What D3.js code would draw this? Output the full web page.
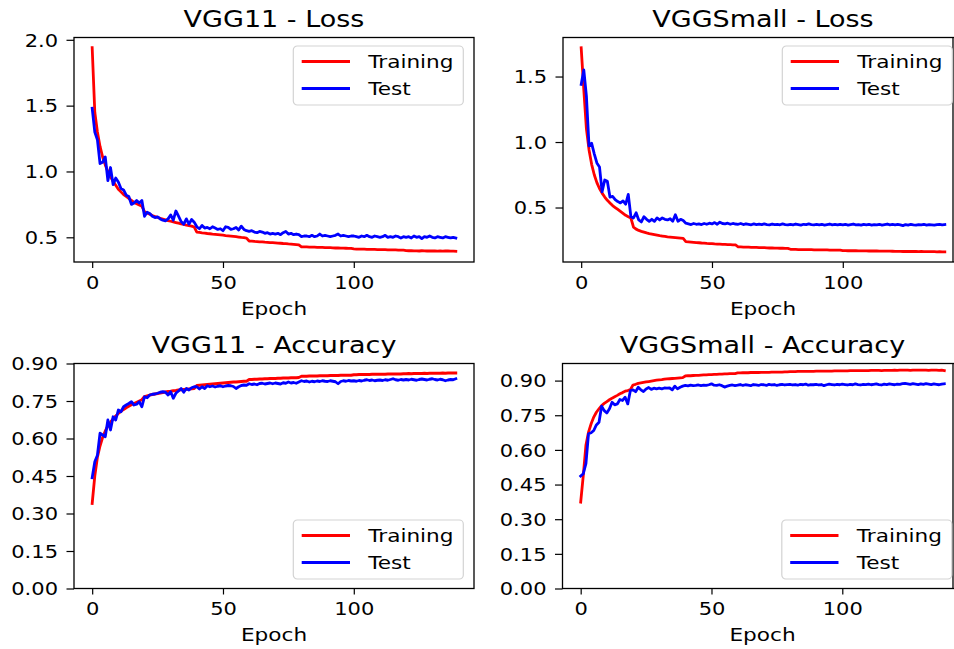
<!DOCTYPE html>
<html><head><meta charset="utf-8">
<script src="https://cdn.jsdelivr.net/npm/d3@7"></script>
<style>body{margin:0;background:#fff;overflow:hidden;} svg{display:block;font-family:"DejaVu Sans",sans-serif;}</style>
</head><body><svg id="c" width="954" height="649"></svg>
<script>
// ---------------- DATA ----------------
const vgg11TrainLoss = [
1.94,1.45,1.30,1.19,1.11,1.05,1.00,0.96,0.925,0.895,
0.865,0.845,0.825,0.81,0.795,0.78,0.765,0.755,0.745,0.735,
0.695,0.685,0.675,0.665,0.658,0.651,0.645,0.639,0.633,0.627,
0.622,0.617,0.612,0.607,0.602,0.598,0.593,0.589,0.585,0.578,
0.540,0.537,0.534,0.532,0.529,0.527,0.524,0.522,0.52,0.518,
0.516,0.513,0.511,0.509,0.507,0.505,0.502,0.499,0.497,0.494,
0.472,0.471,0.469,0.468,0.466,0.465,0.463,0.462,0.46,0.459,
0.458,0.456,0.455,0.453,0.452,0.45,0.449,0.447,0.445,0.443,
0.428,0.427,0.427,0.426,0.425,0.425,0.424,0.423,0.423,0.422,
0.421,0.421,0.42,0.419,0.419,0.418,0.418,0.417,0.416,0.416,
0.412,0.411,0.411,0.41,0.41,0.409,0.409,0.408,0.408,0.407,
0.407,0.406,0.406,0.405,0.405,0.404,0.404,0.403,0.403,0.402,
0.399,0.398,0.398,0.397,0.397,0.396,0.398,0.397,0.396,0.396,
0.397,0.396,0.395,0.396,0.395,0.397,0.396,0.395,0.395,0.394];
const vgg11TestLoss = [
1.48,1.30,1.24,1.06,1.07,1.11,0.93,1.03,0.90,0.95,
0.92,0.87,0.86,0.82,0.81,0.75,0.76,0.78,0.76,0.78,
0.66,0.69,0.68,0.66,0.65,0.655,0.64,0.63,0.625,0.64,
0.67,0.63,0.70,0.66,0.62,0.60,0.64,0.60,0.635,0.615,
0.58,0.565,0.59,0.57,0.575,0.565,0.58,0.57,0.56,0.565,
0.55,0.58,0.575,0.56,0.565,0.575,0.555,0.585,0.56,0.55,
0.545,0.55,0.54,0.535,0.545,0.54,0.53,0.535,0.525,0.53,
0.525,0.53,0.52,0.535,0.545,0.525,0.53,0.52,0.525,0.52,
0.505,0.51,0.51,0.505,0.515,0.505,0.51,0.525,0.51,0.515,
0.51,0.505,0.51,0.515,0.525,0.51,0.515,0.51,0.505,0.51,
0.51,0.505,0.5,0.51,0.505,0.515,0.505,0.5,0.51,0.505,
0.5,0.505,0.515,0.5,0.505,0.5,0.51,0.505,0.495,0.505,
0.5,0.505,0.495,0.51,0.5,0.505,0.49,0.505,0.5,0.51,
0.5,0.495,0.505,0.5,0.495,0.505,0.5,0.495,0.5,0.495];
const smallTrainLoss = [
1.72,1.40,1.10,0.94,0.83,0.75,0.69,0.645,0.61,0.58,
0.555,0.535,0.515,0.50,0.485,0.47,0.455,0.44,0.43,0.42,
0.35,0.335,0.325,0.318,0.312,0.306,0.301,0.297,0.293,0.289,
0.285,0.282,0.279,0.276,0.274,0.272,0.27,0.268,0.266,0.264,
0.24,0.238,0.236,0.234,0.232,0.231,0.229,0.228,0.226,0.225,
0.224,0.222,0.221,0.22,0.219,0.218,0.217,0.216,0.215,0.214,
0.2,0.199,0.198,0.197,0.197,0.196,0.195,0.195,0.194,0.193,
0.193,0.192,0.191,0.191,0.19,0.19,0.189,0.189,0.188,0.188,
0.181,0.18,0.18,0.179,0.179,0.179,0.178,0.178,0.178,0.177,
0.177,0.177,0.176,0.176,0.176,0.175,0.175,0.175,0.175,0.174,
0.171,0.171,0.17,0.17,0.17,0.17,0.169,0.169,0.169,0.169,
0.168,0.168,0.168,0.168,0.167,0.167,0.167,0.167,0.167,0.166,
0.165,0.165,0.165,0.164,0.165,0.164,0.164,0.164,0.164,0.163,
0.164,0.163,0.163,0.163,0.163,0.163,0.162,0.163,0.162,0.162];
const smallTestLoss = [
1.44,1.55,1.35,0.97,0.99,0.91,0.84,0.81,0.62,0.71,
0.70,0.58,0.585,0.56,0.545,0.535,0.55,0.525,0.60,0.43,
0.42,0.46,0.405,0.39,0.43,0.41,0.395,0.41,0.395,0.42,
0.405,0.42,0.41,0.405,0.415,0.395,0.445,0.395,0.41,0.40,
0.38,0.375,0.37,0.378,0.372,0.375,0.37,0.378,0.372,0.38,
0.375,0.385,0.372,0.388,0.378,0.375,0.38,0.372,0.378,0.374,
0.372,0.378,0.37,0.376,0.372,0.368,0.375,0.37,0.373,0.369,
0.375,0.37,0.368,0.374,0.37,0.372,0.368,0.375,0.37,0.368,
0.372,0.368,0.374,0.37,0.366,0.372,0.369,0.375,0.37,0.367,
0.371,0.368,0.372,0.366,0.37,0.374,0.368,0.371,0.367,0.372,
0.368,0.372,0.366,0.37,0.374,0.368,0.37,0.365,0.371,0.368,
0.372,0.366,0.37,0.368,0.372,0.366,0.37,0.374,0.368,0.371,
0.367,0.371,0.368,0.362,0.37,0.366,0.372,0.368,0.365,0.37,
0.368,0.372,0.366,0.37,0.368,0.365,0.37,0.372,0.368,0.37];
const vgg11TrainAcc = [
0.34,0.45,0.525,0.57,0.605,0.63,0.65,0.665,0.678,0.69,
0.70,0.708,0.716,0.723,0.729,0.735,0.74,0.745,0.75,0.755,
0.768,0.771,0.774,0.776,0.778,0.78,0.782,0.784,0.786,0.788,
0.789,0.791,0.792,0.794,0.795,0.796,0.797,0.798,0.799,0.80,
0.812,0.813,0.814,0.815,0.816,0.817,0.818,0.819,0.82,0.821,
0.822,0.823,0.824,0.825,0.826,0.826,0.827,0.828,0.829,0.829,
0.836,0.836,0.837,0.837,0.838,0.838,0.839,0.839,0.84,0.84,
0.84,0.841,0.841,0.842,0.842,0.842,0.843,0.843,0.843,0.844,
0.849,0.849,0.849,0.85,0.85,0.85,0.85,0.851,0.851,0.851,
0.851,0.852,0.852,0.852,0.852,0.853,0.853,0.853,0.853,0.853,
0.855,0.855,0.856,0.856,0.856,0.856,0.856,0.857,0.857,0.857,
0.857,0.857,0.857,0.858,0.858,0.858,0.858,0.858,0.858,0.859,
0.859,0.86,0.859,0.86,0.86,0.86,0.86,0.861,0.86,0.861,
0.861,0.861,0.861,0.861,0.862,0.861,0.862,0.862,0.862,0.862];
const vgg11TestAcc = [
0.443,0.507,0.533,0.621,0.614,0.607,0.674,0.634,0.687,0.674,
0.714,0.707,0.727,0.734,0.74,0.747,0.734,0.737,0.747,0.727,
0.767,0.763,0.774,0.777,0.778,0.781,0.785,0.787,0.785,0.774,
0.787,0.761,0.781,0.79,0.8,0.785,0.8,0.794,0.803,0.807,
0.807,0.798,0.807,0.8,0.811,0.807,0.81,0.806,0.809,0.811,
0.807,0.81,0.812,0.811,0.808,0.8,0.807,0.812,0.814,0.813,
0.819,0.816,0.818,0.815,0.82,0.821,0.818,0.82,0.822,0.819,
0.822,0.82,0.818,0.823,0.821,0.826,0.822,0.824,0.821,0.826,
0.831,0.828,0.83,0.826,0.829,0.827,0.83,0.828,0.831,0.829,
0.828,0.831,0.829,0.827,0.819,0.828,0.831,0.829,0.832,0.83,
0.831,0.829,0.832,0.83,0.833,0.835,0.832,0.834,0.831,0.833,
0.834,0.832,0.835,0.833,0.836,0.839,0.835,0.833,0.836,0.834,
0.836,0.834,0.837,0.835,0.833,0.836,0.838,0.836,0.834,0.837,
0.839,0.836,0.834,0.837,0.835,0.831,0.834,0.836,0.835,0.839];
const smallTrainAcc = [
0.374,0.49,0.62,0.677,0.713,0.742,0.763,0.778,0.792,0.801,
0.809,0.817,0.824,0.83,0.836,0.843,0.848,0.854,0.857,0.861,
0.881,0.884,0.888,0.89,0.892,0.894,0.896,0.898,0.9,0.902,
0.903,0.904,0.906,0.907,0.908,0.909,0.91,0.911,0.912,0.913,
0.92,0.921,0.921,0.922,0.923,0.923,0.924,0.925,0.925,0.926,
0.926,0.927,0.927,0.928,0.928,0.929,0.929,0.93,0.93,0.93,
0.933,0.933,0.934,0.934,0.934,0.935,0.935,0.935,0.935,0.936,
0.936,0.936,0.936,0.937,0.937,0.937,0.937,0.937,0.938,0.938,
0.939,0.939,0.939,0.94,0.94,0.94,0.94,0.94,0.94,0.94,
0.941,0.941,0.941,0.941,0.941,0.941,0.941,0.942,0.942,0.942,
0.942,0.942,0.942,0.943,0.943,0.943,0.943,0.943,0.943,0.943,
0.943,0.944,0.944,0.944,0.944,0.943,0.944,0.944,0.944,0.944,
0.945,0.944,0.945,0.945,0.945,0.945,0.944,0.945,0.945,0.945,
0.945,0.945,0.945,0.944,0.945,0.945,0.945,0.944,0.945,0.943];
const smallTestAcc = [
0.487,0.497,0.54,0.67,0.674,0.684,0.708,0.72,0.789,0.77,
0.76,0.778,0.806,0.795,0.799,0.818,0.814,0.828,0.799,0.857,
0.86,0.852,0.871,0.86,0.853,0.864,0.87,0.862,0.867,0.864,
0.867,0.864,0.868,0.867,0.868,0.86,0.876,0.864,0.871,0.876,
0.879,0.877,0.88,0.878,0.879,0.881,0.878,0.88,0.879,0.882,
0.886,0.88,0.879,0.882,0.878,0.872,0.876,0.879,0.881,0.878,
0.88,0.883,0.879,0.882,0.88,0.878,0.883,0.881,0.879,0.883,
0.882,0.879,0.884,0.881,0.883,0.879,0.882,0.884,0.881,0.883,
0.884,0.881,0.883,0.88,0.884,0.882,0.885,0.88,0.883,0.882,
0.884,0.881,0.883,0.878,0.882,0.885,0.883,0.881,0.884,0.882,
0.885,0.883,0.881,0.884,0.882,0.886,0.883,0.881,0.884,0.883,
0.885,0.882,0.884,0.886,0.883,0.881,0.885,0.883,0.886,0.884,
0.882,0.885,0.884,0.887,0.888,0.886,0.884,0.887,0.885,0.883,
0.886,0.884,0.887,0.885,0.883,0.886,0.884,0.882,0.885,0.886];

const xTicks = [0, 50, 100];
const lossTicksVGG11 = [0.5, 1.0, 1.5, 2.0];
const lossTicksSmall = [0.5, 1.0, 1.5];
const accTicks = [0.00, 0.15, 0.30, 0.45, 0.60, 0.75, 0.90];
const legendLabels = ["Training", "Test"];
const titles = ["VGG11 - Loss", "VGGSmall - Loss", "VGG11 - Accuracy", "VGGSmall - Accuracy"];
const xLabel = "Epoch";

// ---------------- LAYOUT ----------------
const SX = 1.2; // horizontal stretch of glyphs in the reference
const W = 954;
const colors = ["#ff0000", "#0000ff"];
const panels = [
  {title: titles[0], series: [vgg11TrainLoss, vgg11TestLoss], ticks: lossTicksVGG11, fmt: ".1f",
   box: {l: 74, r: 474, t: 37.5, b: 262}, yDomain: [0.3125, 2.0175], legend: "top", titleY: 27},
  {title: titles[1], series: [smallTrainLoss, smallTestLoss], ticks: lossTicksSmall, fmt: ".1f",
   box: {l: 563, r: 963, t: 37.5, b: 262}, yDomain: [0.084, 1.798], legend: "top", titleY: 27},
  {title: titles[2], series: [vgg11TrainAcc, vgg11TestAcc], ticks: accTicks, fmt: ".2f",
   box: {l: 74, r: 474, t: 363.5, b: 588.5}, yDomain: [0, 0.9], legend: "bottom", titleY: 353},
  {title: titles[3], series: [smallTrainAcc, smallTestAcc], ticks: accTicks, fmt: ".2f",
   box: {l: 562.5, r: 962.5, t: 363.5, b: 588.5}, yDomain: [0, 0.974], legend: "bottom", titleY: 353}
];

const svg = d3.select("#c");
const font = '"DejaVu Sans", sans-serif';

panels.forEach(p => {
  const b = p.box;
  const n = p.series[0].length;
  const x = d3.scaleLinear().domain([-(n - 1) * 0.05, (n - 1) * 1.05]).range([b.l, b.r]);
  const y = d3.scaleLinear().domain(p.yDomain).range([b.b, b.t]);
  const g = svg.append("g");

  // lines
  const line = d3.line().x((d, i) => x(i)).y(d => y(d));
  p.series.forEach((s, k) => {
    g.append("path").datum(s).attr("d", line).attr("fill", "none")
      .attr("stroke", colors[k]).attr("stroke-width", 2.8)
      .attr("stroke-linejoin", "round").attr("stroke-linecap", "square");
  });

  // x axis
  const gx = g.append("g").attr("transform", `translate(0,${b.b})`)
    .call(d3.axisBottom(x).tickValues(xTicks).tickSize(6).tickFormat(d3.format("d")));
  gx.attr("font-family", font).attr("font-size", 17.5);
  gx.select(".domain").remove();
  gx.selectAll(".tick line").attr("stroke", "#000").attr("stroke-width", 1.2);
  gx.selectAll(".tick text").attr("y", null).attr("dy", null).attr("fill", "#000")
    .attr("transform", `translate(0,26.5) scale(${SX},1)`);

  // y axis
  const gy = g.append("g").attr("transform", `translate(${b.l},0)`)
    .call(d3.axisLeft(y).tickValues(p.ticks).tickSize(7.5).tickFormat(d3.format(p.fmt)));
  gy.attr("font-family", font).attr("font-size", 17.5);
  gy.select(".domain").remove();
  gy.selectAll(".tick line").attr("stroke", "#000").attr("stroke-width", 1.2);
  gy.selectAll(".tick text").attr("x", null).attr("dy", "0.36em").attr("fill", "#000")
    .attr("transform", `translate(-16,0) scale(${SX},1)`);

  // frame
  g.append("rect").attr("x", b.l).attr("y", b.t).attr("width", b.r - b.l).attr("height", b.b - b.t)
    .attr("fill", "none").attr("stroke", "#000").attr("stroke-width", 1.3);
  if (b.r > W) {
    // the reference is cropped at the right edge; a dark border line shows there
    g.append("line").attr("x1", W - 1).attr("x2", W - 1).attr("y1", b.t).attr("y2", b.b)
      .attr("stroke", "#000").attr("stroke-width", 1.3);
  }

  // title
  g.append("text").text(p.title).attr("text-anchor", "middle").attr("font-family", font)
    .attr("font-size", 22.5).attr("fill", "#000")
    .attr("transform", `translate(${(b.l + b.r) / 2},${p.titleY}) scale(${SX},1)`);

  // x label
  g.append("text").text(xLabel).attr("text-anchor", "middle").attr("font-family", font)
    .attr("font-size", 18).attr("fill", "#000")
    .attr("transform", `translate(${(b.l + b.r) / 2},${b.b + 52.5}) scale(${SX},1)`);

  // legend
  const lw = 170, lh = 59;
  const lx = b.r - 10.7 - lw;
  const ly = p.legend === "top" ? b.t + 8.5 : b.b - 9.5 - lh;
  const lg = g.append("g").attr("transform", `translate(${lx},${ly})`);
  lg.append("rect").attr("width", lw).attr("height", lh).attr("rx", 4)
    .attr("fill", "#fff").attr("fill-opacity", 0.8).attr("stroke", "#d3d3d3").attr("stroke-width", 1.2);
  legendLabels.forEach((lab, k) => {
    const yy = 15.5 + k * 27;
    lg.append("line").attr("x1", 8.4).attr("x2", 56.7).attr("y1", yy).attr("y2", yy)
      .attr("stroke", colors[k]).attr("stroke-width", 2.8);
    lg.append("text").text(lab).attr("font-family", font).attr("font-size", 18).attr("fill", "#000")
      .attr("transform", `translate(75,${yy + 6.6}) scale(${SX},1)`);
  });
});
</script></body></html>
